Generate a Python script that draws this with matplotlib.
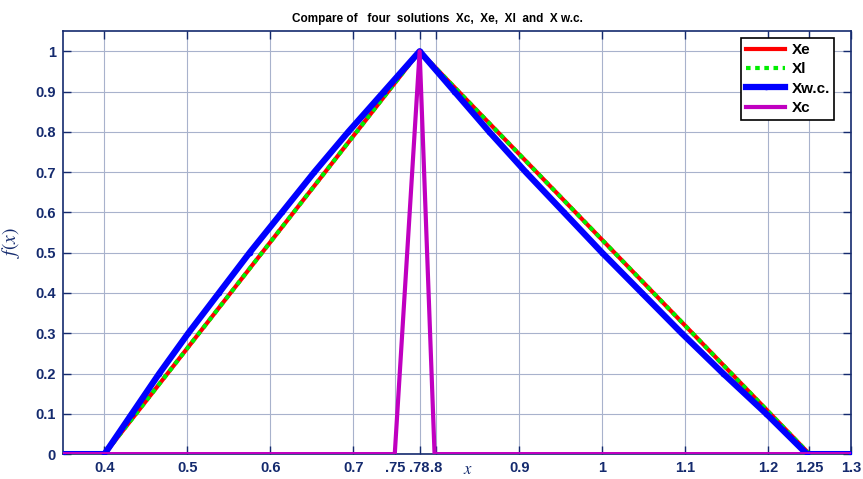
import matplotlib
matplotlib.use('Agg')
import matplotlib.pyplot as plt

# Xe / Xl : triangular solution
xe_x = [0.35, 0.40, 0.78, 1.25, 1.30]
xe_y = [0, 0, 1, 0, 0]
xl_x = [0.35, 0.40, 0.78, 1.25, 1.30]
xl_y = [0, 0, 1, 0, 0]

# Xw.c., slightly bent to the left
xwc_x = [0.35, 0.40, 0.433, 0.466, 0.501, 0.538, 0.575, 0.614, 0.653, 0.694, 0.737, 0.78,
         0.822, 0.864, 0.908, 0.954, 1.000, 1.048, 1.096, 1.146, 1.198, 1.247, 1.30]
xwc_y = [0, 0, 0.1, 0.2, 0.3, 0.4, 0.5, 0.6, 0.7, 0.8, 0.9, 1.0,
         0.9, 0.8, 0.7, 0.6, 0.5, 0.4, 0.3, 0.2, 0.1, 0, 0]

# Xc : narrow spike
xc_x = [0.35, 0.75, 0.78, 0.798, 1.30]
xc_y = [0, 0, 1, 0, 0]

xticks = [0.4, 0.5, 0.6, 0.7, 0.75, 0.78, 0.8, 0.9, 1.0, 1.1, 1.2, 1.25, 1.3]
xticklabels = ['0.4', '0.5', '0.6', '0.7', '.75', '.78', '.8', '0.9', '1', '1.1', '1.2', '1.25', '1.3']
yticks = [0, 0.1, 0.2, 0.3, 0.4, 0.5, 0.6, 0.7, 0.8, 0.9, 1.0]
yticklabels = ['0', '0.1', '0.2', '0.3', '0.4', '0.5', '0.6', '0.7', '0.8', '0.9', '1']

navy = '#142a6e'
plt.rcParams['font.family'] = ['Liberation Sans', 'DejaVu Sans']
plt.rcParams['mathtext.fontset'] = 'stix'

fig = plt.figure(figsize=(8.63, 4.79), dpi=100)
ax = fig.add_axes([0.073, 0.052, 0.913, 0.883])

ax.plot(xe_x, xe_y, color='#ff0000', lw=3, label='Xe', zorder=3)
ax.plot(xl_x, xl_y, color='#00ee00', lw=3, ls=(0, (1.1, 1.1)), dash_capstyle='butt', label='Xl', zorder=4)
ax.plot(xwc_x, xwc_y, color='#0000ff', lw=4.5, marker='.', ms=6, label='Xw.c.', zorder=5)
ax.plot(xc_x, xc_y, color='#c000c0', lw=3, label='Xc', zorder=6)

ax.set_xlim(0.35, 1.3)
ax.set_ylim(0, 1.05)
ax.set_xticks(xticks)
ax.set_xticklabels(xticklabels)
ax.set_yticks(yticks)
ax.set_yticklabels(yticklabels)
ax.tick_params(direction='in', length=6, width=1, color=navy, labelcolor=navy,
               labelsize=10.5, top=True, right=True, pad=5)
for lab in ax.get_xticklabels() + ax.get_yticklabels():
    lab.set_fontweight('bold')
for s in ax.spines.values():
    s.set_color(navy)
    s.set_linewidth(1.2)
ax.grid(True, color='#a8b2cc', lw=0.8)
ax.set_axisbelow(True)

fig.text(0.507, 0.947, 'Compare of   four  solutions  Xc,  Xe,  Xl  and  X w.c.',
         ha='center', va='bottom', fontsize=8.5, fontweight='bold')
ax.set_ylabel('$f(x)$', color=navy, fontsize=14)
ax.yaxis.set_label_coords(-0.052, 0.5)
fig.text(0.542, 0.004, '$x$', color=navy, fontsize=12, ha='center', va='bottom')

leg = ax.legend(loc='upper right', bbox_to_anchor=(0.983, 0.99), fancybox=False,
                edgecolor='black', framealpha=1, handlelength=2.6, borderpad=0.3,
                labelspacing=0.35, handletextpad=0.4, borderaxespad=0.2,
                prop={'weight': 'bold', 'size': 11})
leg.get_frame().set_linewidth(1.2)

fig.savefig('out.png', dpi=100)
